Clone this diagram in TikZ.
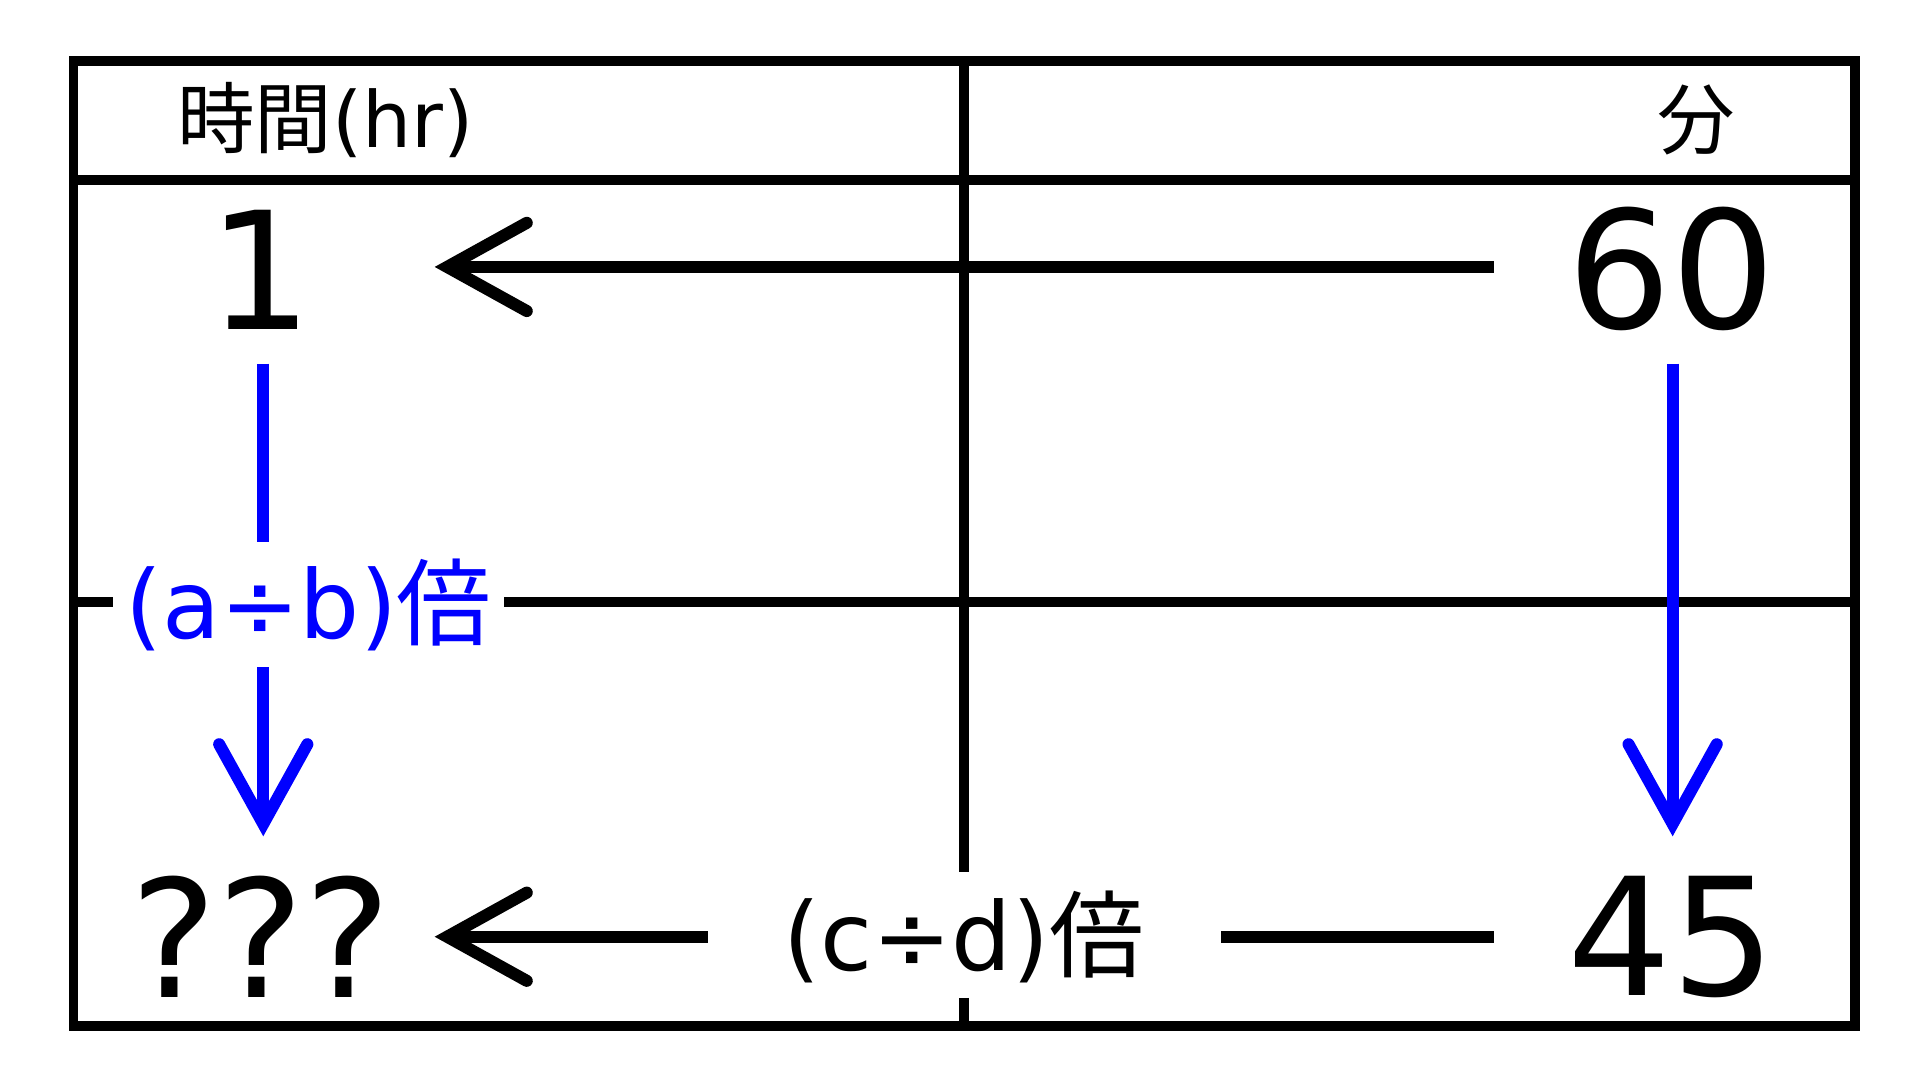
\documentclass[tikz,border=0pt]{standalone}
\usepackage{fontspec}
\setmainfont{DejaVu Sans}
\newfontfamily\cjk{Noto Sans CJK JP}
\usetikzlibrary{arrows.meta}
\begin{document}
\begin{tikzpicture}[x=0.01cm,y=-0.01cm,
  grid/.style={line width=2.3pt,black},
  arr/.style={line width=2.8pt,-{Straight Barb[length=0.65cm,width=0.72cm,line cap=round]}},
  big/.style={font=\fontsize{38}{38}\selectfont,inner sep=0pt},
  hdr/.style={font=\fontsize{18}{18}\selectfont,inner sep=0pt},
  lbl/.style={font=\fontsize{22}{22}\selectfont,inner sep=0pt}]
\useasboundingbox (0,0) rectangle (1568,882);
% grid
\draw[grid] (60,50) rectangle (1515,838);
\draw[grid] (60,147) -- (1515,147);
\draw[grid] (60,492) -- (92,492);
\draw[grid] (412,492) -- (1515,492);
\draw[grid] (787,50) -- (787,712);
\draw[grid] (787,815) -- (787,838);
% texts
\node[hdr] (h1) at (266,98) {{\cjk 時間}(hr)};
\node[hdr] (h2) at (1385,98) {\cjk 分};
\node[big] (n1) at (213,220) {1};
\node[big] (n60) at (1365,220) {60};
\node[big] (nq) at (213,765) {???};
\node[big] (n45) at (1365,765) {45};
\node[lbl,text=blue] (lab1) at (252,494) {(a÷b){\cjk 倍}};
\node[lbl] (lab2) at (787,765) {(c÷d){\cjk 倍}};
% coordinates
\coordinate (a1s) at (1220,218); \coordinate (a1e) at (355,218);
\coordinate (b1s) at (215,297); \coordinate (b1m) at (215,443);
\coordinate (b1n) at (215,545); \coordinate (b1e) at (215,683);
\coordinate (b2s) at (1366,297); \coordinate (b2e) at (1366,683);
\coordinate (c1s) at (1220,765); \coordinate (c1m) at (997,765);
\coordinate (c1n) at (578,765); \coordinate (c1e) at (355,765);
% arrows
\draw[arr] (a1s) -- (a1e);
\draw[line width=2.8pt,blue] (b1s) -- (b1m);
\draw[arr,blue] (b1n) -- (b1e);
\draw[arr,blue] (b2s) -- (b2e);
\draw[line width=2.8pt] (c1s) -- (c1m);
\draw[arr] (c1n) -- (c1e);
\end{tikzpicture}
\end{document}
